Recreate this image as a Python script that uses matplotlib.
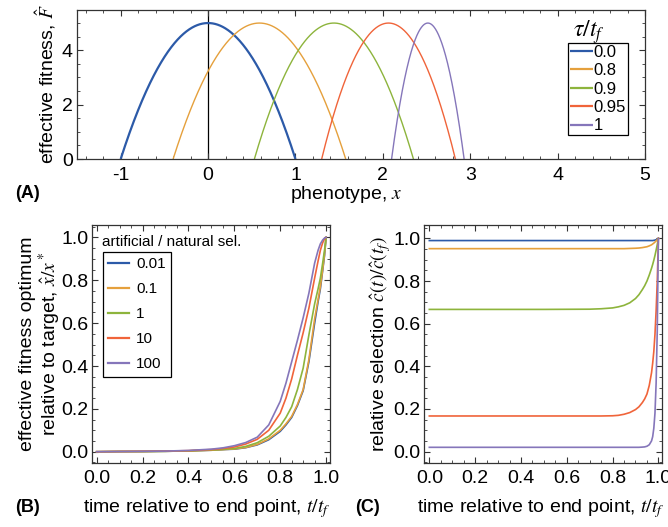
import numpy as np
import matplotlib
matplotlib.use('Agg')
import matplotlib.pyplot as plt
from matplotlib.ticker import MultipleLocator

plt.rcParams['font.family'] = ['Liberation Sans', 'DejaVu Sans']
plt.rcParams['mathtext.fontset'] = 'stix'

colors = ['#2c5aa8', '#e5a03c', '#8db43c', '#f0643a', '#8576ba']

# Panel A: effective fitness parabolas (roots and peak)
tau_labels = ['0.0', '0.8', '0.9', '0.95', '1']
left_root = [-1.0, -0.40, 0.53, 1.30, 2.10]
right_root = [1.0, 1.575, 2.35, 2.83, 2.93]
peak_F = [5.0, 5.0, 5.0, 5.0, 5.0]

# Panel B: effective fitness optimum relative to target
ratio_labels = ['0.01', '0.1', '1', '10', '100']
t_b = [0.0, 0.1, 0.2, 0.3, 0.4, 0.5, 0.55, 0.6, 0.65, 0.7, 0.75, 0.8, 0.825,
       0.85, 0.875, 0.9, 0.925, 0.95, 0.965, 0.975, 0.985, 0.993, 1.0]
opt_b = [
    [0, 0.001, 0.001, 0.002, 0.004, 0.007, 0.01, 0.012, 0.019, 0.032, 0.056, 0.095, 0.125, 0.16, 0.215, 0.285, 0.42, 0.60, 0.70, 0.76, 0.845, 0.915, 1.0],
    [0, 0.001, 0.001, 0.002, 0.004, 0.007, 0.01, 0.013, 0.02, 0.034, 0.06, 0.10, 0.13, 0.165, 0.22, 0.29, 0.43, 0.62, 0.71, 0.77, 0.85, 0.92, 1.0],
    [0, 0.001, 0.001, 0.002, 0.004, 0.008, 0.011, 0.015, 0.025, 0.042, 0.072, 0.12, 0.16, 0.21, 0.29, 0.39, 0.545, 0.69, 0.76, 0.81, 0.88, 0.94, 1.0],
    [0, 0.001, 0.002, 0.003, 0.005, 0.01, 0.015, 0.022, 0.036, 0.058, 0.10, 0.18, 0.25, 0.34, 0.45, 0.555, 0.67, 0.81, 0.89, 0.94, 0.975, 0.993, 1.0],
    [0, 0.001, 0.002, 0.003, 0.006, 0.012, 0.018, 0.028, 0.043, 0.068, 0.125, 0.235, 0.32, 0.42, 0.52, 0.625, 0.74, 0.88, 0.94, 0.97, 0.988, 0.997, 1.0],
]

# Panel C: relative selection
t_c = [0.0, 0.5, 0.7, 0.75, 0.8, 0.825, 0.85, 0.875, 0.9, 0.915, 0.93, 0.94,
       0.95, 0.96, 0.97, 0.975, 0.98, 0.985, 0.99, 0.995, 1.0]
sel_c = [
    [0.99, 0.99, 0.99, 0.99, 0.99, 0.99, 0.99, 0.99, 0.99, 0.99, 0.99, 0.99, 0.99, 0.99, 0.99, 0.99, 0.991, 0.992, 0.994, 0.997, 1.0],
    [0.952, 0.952, 0.952, 0.952, 0.952, 0.952, 0.952, 0.953, 0.954, 0.955, 0.957, 0.959, 0.961, 0.965, 0.97, 0.974, 0.978, 0.983, 0.988, 0.994, 1.0],
    [0.667, 0.667, 0.668, 0.67, 0.674, 0.679, 0.686, 0.698, 0.718, 0.736, 0.76, 0.778, 0.80, 0.828, 0.86, 0.878, 0.898, 0.92, 0.945, 0.971, 1.0],
    [0.167, 0.167, 0.167, 0.167, 0.168, 0.17, 0.175, 0.183, 0.197, 0.21, 0.23, 0.247, 0.27, 0.31, 0.37, 0.415, 0.47, 0.55, 0.66, 0.80, 1.0],
    [0.02, 0.02, 0.02, 0.02, 0.02, 0.02, 0.02, 0.02, 0.02, 0.02, 0.021, 0.022, 0.025, 0.032, 0.05, 0.07, 0.11, 0.18, 0.32, 0.57, 1.0],
]

fig = plt.figure(figsize=(6.68, 5.27), dpi=100)
W, H = 668, 527


def frame_axes(l, t, r, b):
    return fig.add_axes([l / W, 1 - b / H, (r - l) / W, (b - t) / H])


def style(ax, fs=14, xpad=5):
    for s in ax.spines.values():
        s.set_color('#333333')
        s.set_linewidth(0.9)
    ax.tick_params(which='both', direction='in', top=True, right=True,
                   colors='#333333', labelcolor='black', labelsize=fs)
    ax.tick_params(which='major', length=4.5, width=0.8)
    ax.tick_params(which='minor', length=2.2, width=0.6)
    ax.tick_params(axis='x', pad=xpad)
    ax.tick_params(axis='y', pad=3)


# ---- Panel A
axA = frame_axes(77, 10, 645, 159)
xs = np.linspace(-1.5, 5, 2000)
for lo, hi, pk, c, lab, lw in zip(left_root, right_root, peak_F, colors, tau_labels,
                                  [1.6, 1.0, 1.0, 1.0, 1.0]):
    xm = xs[(xs >= lo) & (xs <= hi)]
    xm = np.concatenate([[lo], xm, [hi]])
    F = pk * (1 - ((xm - (lo + hi) / 2) / ((hi - lo) / 2)) ** 2)
    axA.plot(xm, F, color=c, lw=lw, label=lab, solid_capstyle='butt')
axA.axvline(0, color='black', lw=0.9, zorder=0)
axA.set_xlim(-1.5, 5)
axA.set_ylim(0, 5.48)
axA.xaxis.set_major_locator(MultipleLocator(1))
axA.xaxis.set_minor_locator(MultipleLocator(0.2))
axA.yaxis.set_major_locator(MultipleLocator(2))
axA.yaxis.set_minor_locator(MultipleLocator(0.5))
style(axA, xpad=6)
axA.xaxis.set_major_formatter(plt.FuncFormatter(lambda v, p: f'{v:.0f}'))
axA.set_xlabel('phenotype, $x$', fontsize=14)
axA.xaxis.set_label_coords(0.475, -0.168)
axA.set_ylabel(r'effective fitness, $\hat{F}$', fontsize=14)
axA.yaxis.set_label_coords(-0.034, 0.5)
legA = axA.legend(loc='upper left', bbox_to_anchor=(568 / W, 1 - 43 / H),
                  bbox_transform=fig.transFigure, fontsize=12, frameon=True,
                  fancybox=False, edgecolor='black', framealpha=1,
                  handlelength=1.4, handletextpad=0.0, labelspacing=0.2,
                  borderpad=0.12, borderaxespad=0)
legA.get_frame().set_linewidth(0.9)
for ln in legA.get_lines():
    ln.set_linewidth(1.6)
fig.text(589 / W, 1 - 32 / H, r'$\tau/t_f$', fontsize=17, ha='center', va='center')
fig.text(15 / W, 1 - 193 / H, '(A)', fontsize=13, fontweight='bold', va='center')

# ---- Panel B
axB = frame_axes(92.3, 225, 330, 463.3)
for ys, c, lab in zip(opt_b, colors, ratio_labels):
    axB.plot(t_b, ys, color=c, lw=1.2, label=lab)
axB.set_xlim(-0.019, 1.017)
axB.set_ylim(-0.054, 1.058)
axB.xaxis.set_major_locator(MultipleLocator(0.2))
axB.xaxis.set_minor_locator(MultipleLocator(0.05))
axB.yaxis.set_major_locator(MultipleLocator(0.2))
axB.yaxis.set_minor_locator(MultipleLocator(0.05))
style(axB)
axB.xaxis.set_major_formatter(plt.FuncFormatter(lambda v, p: f'{v:.1f}'))
axB.yaxis.set_major_formatter(plt.FuncFormatter(lambda v, p: f'{v:.1f}'))
axB.set_xlabel('time relative to end point, $t/t_f$', fontsize=14)
axB.xaxis.set_label_coords(0.48, -0.142)
axB.set_ylabel('effective fitness optimum\nrelative to target, $\\hat{x}/x^*$',
               fontsize=14, linespacing=1.05)
axB.yaxis.set_label_coords(-0.125, 0.5)
legB = axB.legend(loc='upper left', bbox_to_anchor=(102.7 / W, 1 - 252 / H),
                  bbox_transform=fig.transFigure, fontsize=11, frameon=True,
                  fancybox=False, edgecolor='black', framealpha=1,
                  handlelength=1.4, handletextpad=0.45, labelspacing=0.72,
                  borderpad=0.35, borderaxespad=0)
legB.get_frame().set_linewidth(0.9)
for ln in legB.get_lines():
    ln.set_linewidth(1.6)
fig.text(102 / W, 1 - 242.5 / H, 'artificial / natural sel.', fontsize=11, va='center')
fig.text(15 / W, 1 - 507 / H, '(B)', fontsize=13, fontweight='bold', va='center')

# ---- Panel C
axC = frame_axes(424.3, 225, 662.3, 463.3)
for ys, c in zip(sel_c, colors):
    axC.plot(t_c, ys, color=c, lw=1.2)
axC.set_xlim(-0.022, 1.017)
axC.set_ylim(-0.055, 1.063)
axC.xaxis.set_major_locator(MultipleLocator(0.2))
axC.xaxis.set_minor_locator(MultipleLocator(0.05))
axC.yaxis.set_major_locator(MultipleLocator(0.2))
axC.yaxis.set_minor_locator(MultipleLocator(0.05))
style(axC)
axC.xaxis.set_major_formatter(plt.FuncFormatter(lambda v, p: f'{v:.1f}'))
axC.yaxis.set_major_formatter(plt.FuncFormatter(lambda v, p: f'{v:.1f}'))
axC.set_xlabel('time relative to end point, $t/t_f$', fontsize=14)
axC.xaxis.set_label_coords(0.49, -0.142)
axC.set_ylabel(r'relative selection $\hat{c}(t)/\hat{c}(t_f)$', fontsize=14)
axC.yaxis.set_label_coords(-0.13, 0.5)
fig.text(355 / W, 1 - 507 / H, '(C)', fontsize=13, fontweight='bold', va='center')

fig.savefig('out.png', dpi=100)
